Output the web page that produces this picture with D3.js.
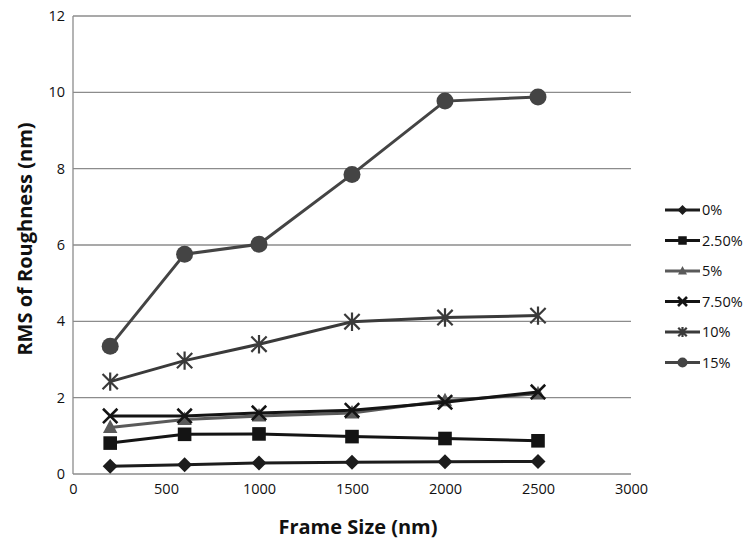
<html>
<head>
<script src="https://d3js.org/d3.v7.min.js"></script>
<style>
  body { margin: 0; background: #fff; }
  text { font-family: "Open Sans", "Noto Sans", sans-serif; fill: #111; }
  .grid line { stroke: #8c8c8c; stroke-width: 1.3px; }
  .tick text { font-size: 14.5px; }
  .axis-title { font-weight: bold; font-size: 20px; }
  .legend text { font-size: 14.5px; }
</style>
</head>
<body>
<svg id="chart" width="747" height="540"></svg>
<script>
const frameSizes = [200, 600, 1000, 1500, 2000, 2500];
const seriesNames = ["0%", "2.50%", "5%", "7.50%", "10%", "15%"];
const rms0   = [0.20, 0.24, 0.29, 0.31, 0.32, 0.33];
const rms25  = [0.81, 1.04, 1.05, 0.98, 0.93, 0.87];
const rms5   = [1.22, 1.43, 1.52, 1.60, 1.92, 2.10];
const rms75  = [1.52, 1.52, 1.60, 1.67, 1.88, 2.15];
const rms10  = [2.42, 2.97, 3.40, 3.99, 4.10, 4.15];
const rms15  = [3.35, 5.76, 6.02, 7.85, 9.77, 9.88];
const xTicks = [0, 500, 1000, 1500, 2000, 2500, 3000];
const yTicks = [0, 2, 4, 6, 8, 10, 12];

const seriesValues = [rms0, rms25, rms5, rms75, rms10, rms15];
const colors = ["#1c1c1c", "#141414", "#5a5a5a", "#141414", "#3a3a3a", "#444444"];
const shapes = ["diamond", "square", "triangle", "x", "star", "circle"];

const svg = d3.select("#chart");
const margin = {top: 16, right: 116, bottom: 66, left: 73};
const x = d3.scaleLinear().domain([0, 3000]).range([margin.left, 631]);
const y = d3.scaleLinear().domain([0, 12]).range([474, margin.top]);

// gridlines
const grid = svg.append("g").attr("class", "grid");
grid.selectAll("line").data(yTicks).enter().append("line")
    .attr("x1", x(0)).attr("x2", x(3000))
    .attr("y1", d => y(d)).attr("y2", d => y(d));
// y axis line
svg.append("line").attr("x1", x(0)).attr("x2", x(0))
   .attr("y1", y(0)).attr("y2", y(12))
   .attr("stroke", "#8c8c8c").attr("stroke-width", 1.3);

// tick labels
const yAxis = svg.append("g").attr("transform", "translate(" + (x(0) - 8) + ",0)")
   .call(d3.axisLeft(y).tickValues(yTicks).tickSize(0).tickPadding(0));
yAxis.select(".domain").remove();
const xAxis = svg.append("g").attr("transform", "translate(0," + (y(0) + 10) + ")")
   .call(d3.axisBottom(x).tickValues(xTicks).tickSize(0).tickPadding(0).tickFormat(d3.format("d")));
xAxis.select(".domain").remove();

// axis titles
svg.append("text").attr("class", "axis-title")
   .attr("text-anchor", "middle")
   .attr("transform", "translate(32," + (y(6) - 6) + ") rotate(-90)")
   .text("RMS of Roughness (nm)");
svg.append("text").attr("class", "axis-title")
   .attr("text-anchor", "middle")
   .attr("x", 358).attr("y", 534)
   .text("Frame Size (nm)");

// r = half width of the marker
function drawMarker(g, shape, color, r) {
  if (shape === "diamond") {
    g.append("path").attr("d", `M0,${-r}L${r},0L0,${r}L${-r},0Z`).attr("fill", color);
  } else if (shape === "square") {
    const s = r * 0.85;
    g.append("rect").attr("x", -s).attr("y", -s).attr("width", 2 * s).attr("height", 2 * s).attr("fill", color);
  } else if (shape === "triangle") {
    g.append("path").attr("d", `M0,${-r}L${r * 0.9},${r * 0.7}L${-r * 0.9},${r * 0.7}Z`).attr("fill", color);
  } else if (shape === "circle") {
    g.append("circle").attr("r", r).attr("fill", color);
  } else if (shape === "x") {
    const s = r * 0.9;
    g.append("path").attr("d", `M${-s},${-s}L${s},${s}M${-s},${s}L${s},${-s}`)
     .attr("stroke", color).attr("stroke-width", 2.6).attr("fill", "none");
  } else if (shape === "star") {
    const s = r * 0.85;
    g.append("path").attr("d", `M${-s},${-s}L${s},${s}M${-s},${s}L${s},${-s}M0,${-s * 1.2}L0,${s * 1.2}`)
     .attr("stroke", color).attr("stroke-width", 2.2).attr("fill", "none");
  }
}

const line = d3.line().x((d, i) => x(frameSizes[i])).y(d => y(d));
const markerR = [7.5, 8, 8, 8, 9, 8.5];

seriesValues.forEach((vals, k) => {
  svg.append("path").datum(vals)
     .attr("d", line)
     .attr("fill", "none")
     .attr("stroke", colors[k])
     .attr("stroke-width", 3);
  vals.forEach((v, i) => {
    const g = svg.append("g").attr("transform", "translate(" + x(frameSizes[i]) + "," + y(v) + ")");
    drawMarker(g, shapes[k], colors[k], markerR[k]);
  });
});

// legend
const legend = svg.append("g").attr("class", "legend");
seriesNames.forEach((name, k) => {
  const ly = 210 + k * 30.5;
  legend.append("line").attr("x1", 665).attr("x2", 700)
        .attr("y1", ly).attr("y2", ly)
        .attr("stroke", colors[k]).attr("stroke-width", 3);
  const g = legend.append("g").attr("transform", "translate(682.5," + ly + ")");
  drawMarker(g, shapes[k], colors[k], 5);
  legend.append("text").attr("x", 702).attr("y", ly + 5).text(name);
});
</script>
</body>
</html>
